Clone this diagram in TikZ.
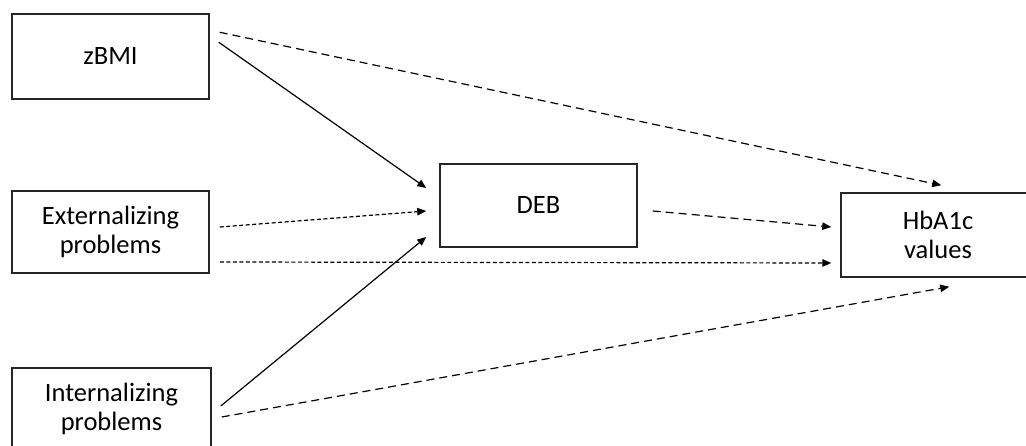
\documentclass[tikz,border=0pt]{standalone}
\usepackage{fontspec}
\setmainfont{Carlito}
\usetikzlibrary{arrows.meta,calc}
\begin{document}
\begin{tikzpicture}[x=1pt,y=-1pt,
  box/.style={draw=black!85,line width=1.5pt,minimum width=197pt,minimum height=83pt,inner sep=0pt,align=center,font=\fontsize{26.5}{29}\selectfont},
  conn/.style={line width=1.2pt,-{Triangle[length=9pt,width=7.5pt]}},
  solidarrow/.style={conn},
  longdash/.style={conn,dash pattern=on 8pt off 5pt},
  finedash/.style={conn,dash pattern=on 4pt off 2.5pt}]
\useasboundingbox (0,0) rectangle (1026,446);
\clip (0,0) rectangle (1026,446);
\node[box,minimum height=85pt] (zbmi) at (110.5,56.5) {zBMI};
\node[box,minimum height=82pt] (ext) at (110.5,232) {Externalizing\\problems};
\node[box,minimum width=199pt,minimum height=82pt] (int) at (111.5,409) {Internalizing\\problems};
\node[box] (deb) at (538.5,205.5) {DEB};
\node[box,minimum width=194pt,minimum height=84pt] (hb) at (938,235) {HbA1c\\values};
\draw[longdash] ($(zbmi.north east)+(10,19)$) -- ($(hb.north west)+(101,-7)$);
\draw[solidarrow] ($(zbmi.north east)+(9,29)$) -- ($(deb.west)+(-13,-17.5)$);
\draw[finedash] ($(ext.east)+(10,-5)$) -- ($(deb.west)+(-13,5.5)$);
\draw[finedash] ($(ext.east)+(10,30)$) -- ($(hb.west)+(-9,28)$);
\draw[solidarrow] ($(int.east)+(9,-3)$) -- ($(deb.west)+(-13,31.5)$);
\draw[longdash] ($(int.east)+(10,8)$) -- ($(hb.south west)+(109,9)$);
\draw[longdash] ($(deb.east)+(15,5.5)$) -- ($(hb.west)+(-9,-8)$);
\end{tikzpicture}
\end{document}
